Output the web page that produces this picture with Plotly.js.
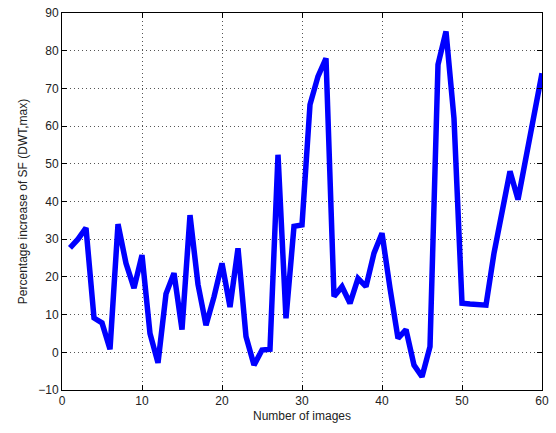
<!DOCTYPE html>
<html>
<head>
<meta charset="utf-8">
<script src="https://cdn.plot.ly/plotly-3.0.1.min.js"></script>
<style>html,body{margin:0;padding:0;background:#fff}#chart{width:556px;height:433px}</style>
</head>
<body>
<div id="chart"></div>
<script>
const imageNumbers = [];
for (let i = 1; i <= 60; i++) imageNumbers.push(i);
const sfIncrease = [
  27.7, 30, 33, 9.1, 7.8, 0.8, 34, 23.6, 17, 25.8,
  5, -2.8, 15.5, 21, 6, 36.4, 18, 7.2, 14.7, 23.6,
  12, 27.6, 4.2, -3.4, 0.6, 0.8, 52.4, 9, 33.4, 33.8,
  65.7, 73.2, 78, 14.8, 17.4, 13, 19.6, 17.4, 26.3, 31.6,
  17, 3.7, 6, -3.4, -6.5, 1.5, 76.3, 85.1, 62, 13,
  12.8, 12.5, 12.5, 26.3, 37, 48, 40.5, 52, 63, 74
];
const xTicks = [0, 10, 20, 30, 40, 50, 60];
const yTicks = [-10, 0, 10, 20, 30, 40, 50, 60, 70, 80, 90];

const axisCommon = {
  showline: true, mirror: 'ticks', linecolor: '#000', linewidth: 1,
  ticks: 'inside', ticklen: 5, tickcolor: '#000',
  showgrid: true, gridcolor: '#555', griddash: '1px,3px', gridwidth: 1,
  zeroline: false,
  tickfont: {family: 'Liberation Sans, Arial, sans-serif', size: 12, color: '#222'}
};

Plotly.newPlot('chart', [{
  x: imageNumbers, y: sfIncrease, type: 'scatter', mode: 'lines',
  line: {color: '#0000ff', width: 5.5}
}], {
  width: 556, height: 433,
  margin: {l: 62, r: 14, t: 13, b: 43},
  paper_bgcolor: '#fff', plot_bgcolor: '#fff',
  showlegend: false,
  xaxis: Object.assign({}, axisCommon, {
    range: [0, 60], tickvals: xTicks,
    title: {text: 'Number of images', standoff: 4,
      font: {family: 'Liberation Sans, Arial, sans-serif', size: 12, color: '#222'}}
  }),
  yaxis: Object.assign({}, axisCommon, {
    range: [-10, 90], tickvals: yTicks,
    title: {text: 'Percentage increase of SF (DWT,max)', standoff: 8,
      font: {family: 'Liberation Sans, Arial, sans-serif', size: 12, color: '#222'}}
  })
}, {staticPlot: true, displayModeBar: false});
</script>
</body>
</html>
